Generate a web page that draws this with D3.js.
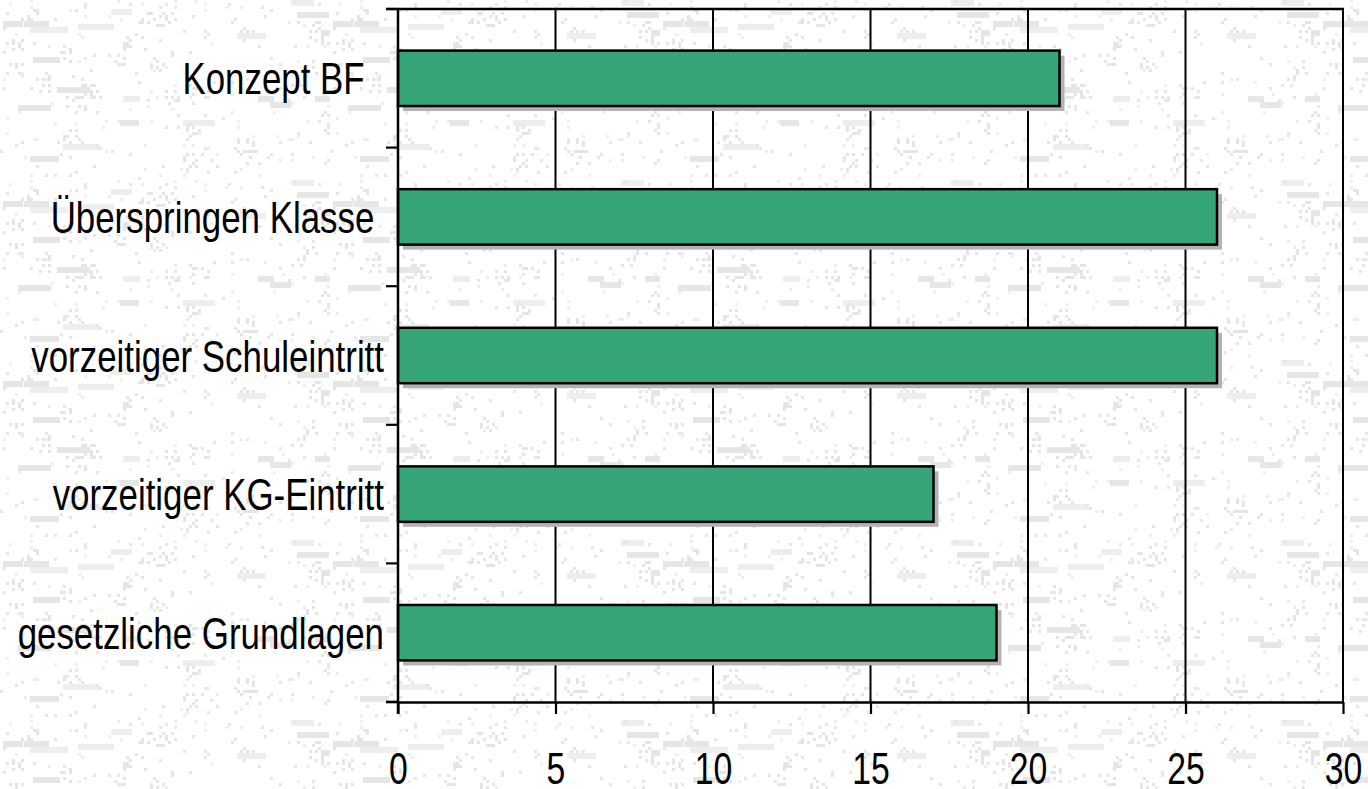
<!DOCTYPE html>
<html><head><meta charset="utf-8">
<script src="https://cdn.jsdelivr.net/npm/d3@7"></script>
<style>
html,body{margin:0;padding:0;background:#fff;}
svg{display:block;}
text{font-family:"Liberation Sans",Arial,sans-serif;fill:#000;white-space:pre;}
</style></head>
<body>
<svg id="chart" width="1368" height="789"></svg>
<script>
const categories = ["Konzept BF  ", "Überspringen Klasse ", "vorzeitiger Schuleintritt", "vorzeitiger KG-Eintritt", "gesetzliche Grundlagen"];
const values = [21, 26, 26, 17, 19];
const xTicks = [0, 5, 10, 15, 20, 25, 30];

const W = 1368, H = 789;
const svg = d3.select("#chart");

// decorative background texture (seeded, not data)
let seed = 4242;
function rnd(){ seed = (seed * 1103515245 + 12345) % 2147483648; return seed / 2147483648; }
const defs = svg.append("defs");
const pat = defs.append("pattern").attr("id","tex").attr("patternUnits","userSpaceOnUse")
  .attr("width",330).attr("height",180);
pat.append("rect").attr("width",330).attr("height",180).attr("fill","#fff");
for (let i = 0; i < 260; i++) {
  const r = rnd();
  const long = r < 0.06;
  const cluster = r >= 0.06 && r < 0.2;
  const px = Math.floor(rnd()*110)*3, py = Math.floor(rnd()*60)*3;
  if (cluster) {
    for (let k = 0; k < 8; k++) {
      pat.append("rect").attr("x", px + Math.floor(rnd()*7)*3).attr("y", py + Math.floor(rnd()*5)*3)
        .attr("width",3).attr("height",3).attr("fill","#e5e5e5");
    }
  } else {
    pat.append("rect")
      .attr("x", px).attr("y", py)
      .attr("width", long ? 15 + Math.floor(rnd()*25) : 3)
      .attr("height", long ? 6 : 3)
      .attr("fill", rnd() < 0.5 ? "#e6e6e6" : "#eeeeee");
  }
}
svg.append("rect").attr("width",W).attr("height",H).attr("fill","url(#tex)");

const x = d3.scaleLinear().domain([0, 30]).range([398, 1343]);
const y = d3.scaleBand().domain(categories).range([9, 702]).paddingInner(0.6).paddingOuter(0.3);

// plot frame top
svg.append("line").attr("x1",386).attr("x2",x(30) + 1).attr("y1",9).attr("y2",9)
  .attr("stroke","#000").attr("stroke-width",2.5);

// vertical gridlines
svg.append("g").selectAll("line").data(xTicks.slice(1)).join("line")
  .attr("x1",d=>x(d)).attr("x2",d=>x(d)).attr("y1",9).attr("y2",702)
  .attr("stroke","#000").attr("stroke-width",2);

// shadows
svg.append("g").selectAll("rect").data(values).join("rect")
  .attr("x", x(0) + 5)
  .attr("y", (d,i)=>y(categories[i]) + 5)
  .attr("width", d=>x(d)-x(0))
  .attr("height", y.bandwidth())
  .attr("fill","#b3b3b3");

// bars
svg.append("g").selectAll("rect").data(values).join("rect")
  .attr("x", x(0))
  .attr("y", (d,i)=>y(categories[i]))
  .attr("width", d=>x(d)-x(0))
  .attr("height", y.bandwidth())
  .attr("fill","#36a578").attr("stroke","#000").attr("stroke-width",2.5);

// x axis
const xAxis = d3.axisBottom(x).tickValues(xTicks).tickSize(12).tickSizeOuter(0).tickPadding(8);
const gx = svg.append("g").attr("transform","translate(0,702)").call(xAxis);
gx.select(".domain").attr("stroke","#000").attr("stroke-width",2.5);
gx.selectAll(".tick line").attr("stroke","#000").attr("stroke-width",2.2);
gx.selectAll(".tick text")
  .attr("font-size",45).attr("font-family","Liberation Sans, Arial, sans-serif")
  .attr("fill","#000")
  .attr("y", 0).attr("dy", 0).attr("x", 0)
  .attr("transform", `translate(0,82) scale(0.75,1)`);
svg.append("line").attr("x1",386).attr("x2",398).attr("y1",702).attr("y2",702)
  .attr("stroke","#000").attr("stroke-width",2.5);

// y axis
const boundaries = d3.range(categories.length + 1).map(i => 9 + i * y.step());
svg.append("line").attr("x1",398).attr("x2",398).attr("y1",9).attr("y2",714)
  .attr("stroke","#000").attr("stroke-width",2.5);
svg.append("g").selectAll("line").data(boundaries).join("line")
  .attr("x1",386).attr("x2",398).attr("y1",d=>d).attr("y2",d=>d)
  .attr("stroke","#000").attr("stroke-width",2.2);

// category labels
svg.append("g").selectAll("text").data(categories).join("text")
  .attr("transform", d=>`translate(384,${y(d)+y.bandwidth()/2 + 16}) scale(0.775,1)`)
  .attr("text-anchor","end")
  .attr("font-size",45)
  .text(d=>d);
</script>
</body></html>
